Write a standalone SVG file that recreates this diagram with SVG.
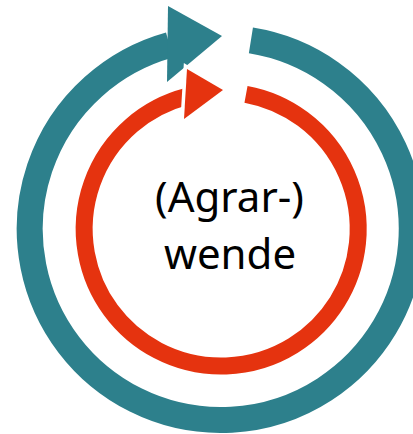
<svg xmlns="http://www.w3.org/2000/svg" width="413" height="434" viewBox="0 0 413 434">
  <style>
    .ring { fill: none; stroke-linecap: butt; }
    .teal { stroke: #2d808c; }
    .red { stroke: #e5330f; }
    .head-teal { fill: #2d808c; }
    .head-red { fill: #e5330f; stroke: #ffffff; stroke-width: 7; stroke-linejoin: miter; paint-order: stroke; }
    .label { font-family: "Noto Sans", "Open Sans", sans-serif; font-size: 42px; fill: #000000; text-anchor: middle; }
  </style>
  <rect width="413" height="434" fill="#ffffff"/>
  <g id="connectors">
    <!-- outer cycle: clockwise arc ending in a wide arrowhead at the top -->
    <g id="outer-cycle">
      <path class="ring teal" stroke-width="26" d="M250.9,40.4 A191,191 0 1 1 169.5,45.0"/>
      <polygon class="head-teal" points="168,6 222,36 167,82"/>
    </g>
    <!-- inner cycle: narrower clockwise arc with its own arrowhead -->
    <g id="inner-cycle">
      <path class="ring red" stroke-width="17" d="M246,94.3 A137,137 0 1 1 186.5,96.5"/>
      <polygon class="head-red" points="187,69 223,90 184,119"/>
    </g>
  </g>
  <g id="center-label">
    <text class="label" x="229.5" y="212">(Agrar-)</text>
    <text class="label" x="230" y="269">wende</text>
  </g>
</svg>
